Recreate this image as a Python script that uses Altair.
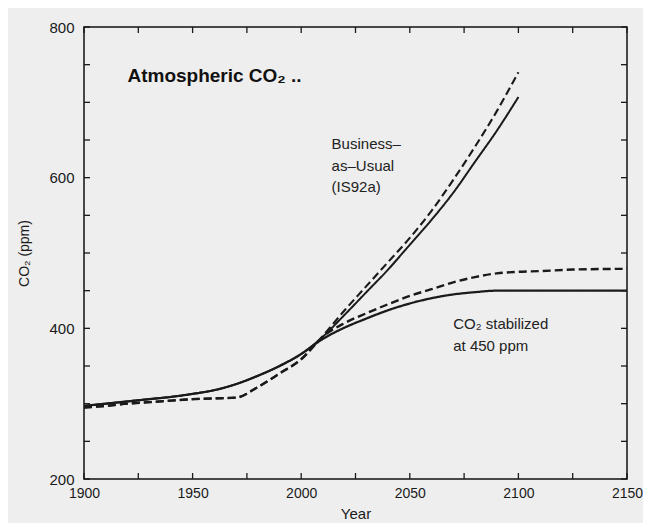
import altair as alt
import pandas as pd

# ---- data ----
hist_years = [1900, 1910, 1920, 1930, 1940, 1950, 1960, 1970, 1980, 1990, 2000]
hist_solid = [297, 300, 303, 306, 309, 313, 318, 326, 337, 350, 366]
hist_dashed = [295, 297, 300, 302, 304, 306, 307, 308, 322, 340, 359]

bau_years = [2010, 2020, 2030, 2040, 2050, 2060, 2070, 2080, 2090, 2100]
bau_solid = [389, 418, 448, 478, 511, 544, 580, 621, 662, 707]
bau_dashed = [390, 424, 456, 488, 520, 556, 597, 641, 688, 740]

stab_years = [2010, 2020, 2030, 2040, 2050, 2060, 2070, 2080, 2090, 2100, 2110, 2125, 2150]
stab_solid = [386, 401, 413, 424, 433, 440, 445, 448, 450, 450, 450, 450, 450]
stab_dashed = [389, 407, 420, 432, 443, 452, 461, 468, 473, 475, 476, 478, 479]

x_ticks = list(range(1900, 2151, 25))
y_ticks = list(range(200, 801, 50))
x_labels = [1900, 1950, 2000, 2050, 2100, 2150]
y_labels = [200, 400, 600, 800]

notes_text = ["Business–", "as–Usual", "(IS92a)", "CO₂  stabilized", "at 450 ppm"]
notes_year = [2014, 2014, 2014, 2070, 2070]
notes_ppm = [638, 609, 581, 399, 370]

title_text = ["Atmospheric CO₂ .."]
title_year = [1920]
title_ppm = [727]

# ---- tables ----
rows = []
def add(name, ys, vs):
    for y, v in zip(ys, vs):
        rows.append({"year": y, "ppm": v, "series": name})

add("bau_solid", hist_years + bau_years, hist_solid + bau_solid)
add("bau_dashed", hist_years + bau_years, hist_dashed + bau_dashed)
add("stab_solid", hist_years + stab_years, hist_solid + stab_solid)
add("stab_dashed", hist_years + stab_years, hist_dashed + stab_dashed)
df = pd.DataFrame(rows)

W, H = 543, 452
FONT = "Liberation Sans"
INK = "#1a1a1a"

xscale = alt.Scale(domain=[1900, 2150], nice=False, zero=False)
yscale = alt.Scale(domain=[200, 800], nice=False, zero=False)

series_order = ["bau_solid", "bau_dashed", "stab_solid", "stab_dashed"]

lines = alt.Chart(df).mark_line(interpolate="monotone", color=INK, clip=True).encode(
    x=alt.X("year:Q", scale=xscale,
            axis=alt.Axis(values=x_labels, title="Year", format="d", grid=False,
                          ticks=False, domain=False, labelPadding=7, titlePadding=6,
                          labelFlush=False, labelOverlap=False,
                          labelFontSize=14, titleFontSize=15, titleFontWeight="normal",
                          labelFont=FONT, titleFont=FONT, labelColor=INK, titleColor=INK)),
    y=alt.Y("ppm:Q", scale=yscale,
            axis=alt.Axis(values=y_labels, title="CO₂ (ppm)", grid=False,
                          ticks=False, domain=False, labelPadding=10, titlePadding=17,
                          labelFlush=False, labelOverlap=False,
                          labelFontSize=15, titleFontSize=14, titleFontWeight="normal",
                          labelFont=FONT, titleFont=FONT, labelColor=INK, titleColor=INK)),
    detail="series:N",
    strokeDash=alt.StrokeDash("series:N", scale=alt.Scale(
        domain=series_order, range=[[1, 0], [8, 4], [1, 0], [8, 4]]), legend=None),
    strokeWidth=alt.StrokeWidth("series:N", scale=alt.Scale(
        domain=series_order, range=[2.0, 2.4, 3.0, 2.4]), legend=None),
)

xt = pd.DataFrame({"year": x_ticks})
yt = pd.DataFrame({"ppm": y_ticks})

tick_bottom = alt.Chart(xt).mark_rule(color=INK, strokeWidth=1.3).encode(
    x=alt.X("year:Q", scale=xscale), y=alt.value(H), y2=alt.value(H - 6))
tick_top = alt.Chart(xt).mark_rule(color=INK, strokeWidth=1.3).encode(
    x=alt.X("year:Q", scale=xscale), y=alt.value(0), y2=alt.value(6))
tick_left = alt.Chart(yt).mark_rule(color=INK, strokeWidth=1.3).encode(
    y=alt.Y("ppm:Q", scale=yscale), x=alt.value(0), x2=alt.value(6))
tick_right = alt.Chart(yt).mark_rule(color=INK, strokeWidth=1.3).encode(
    y=alt.Y("ppm:Q", scale=yscale), x=alt.value(W - 6), x2=alt.value(W))

notes = alt.Chart(pd.DataFrame({"year": notes_year, "ppm": notes_ppm, "text": notes_text})).mark_text(
    align="left", baseline="alphabetic", font=FONT, fontSize=15, color="#222"
).encode(x=alt.X("year:Q", scale=xscale), y=alt.Y("ppm:Q", scale=yscale), text="text:N")

title = alt.Chart(pd.DataFrame({"year": title_year, "ppm": title_ppm, "text": title_text})).mark_text(
    align="left", baseline="alphabetic", font=FONT, fontSize=19, fontWeight="bold", color="#111"
).encode(x=alt.X("year:Q", scale=xscale), y=alt.Y("ppm:Q", scale=yscale), text="text:N")

chart = alt.layer(lines, tick_bottom, tick_top, tick_left, tick_right, notes, title).properties(
    width=W, height=H,
    autosize=alt.AutoSizeParams(type="none"),
    padding={"left": 76, "top": 19, "right": 16, "bottom": 44},
    background="#eeeeee",
).configure_view(stroke="#111111", strokeWidth=1.5)

chart.save("out.html", embed_options={"renderer": "svg", "actions": False})
